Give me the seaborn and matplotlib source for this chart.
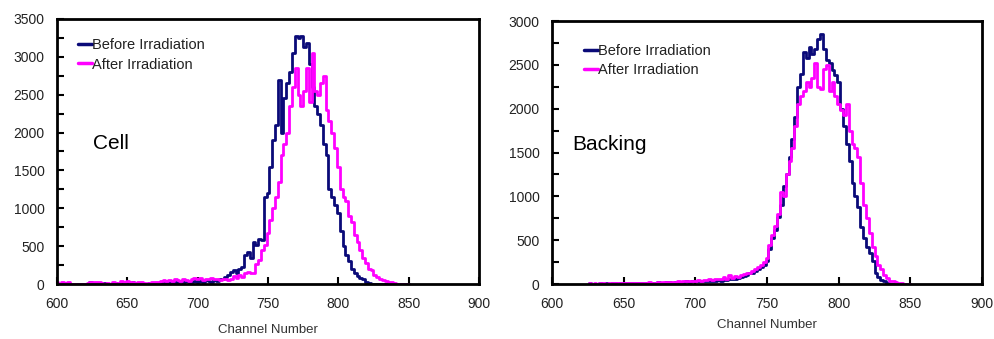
import numpy as np
import pandas as pd
import matplotlib
matplotlib.use("Agg")
import matplotlib.pyplot as plt
import seaborn as sns

# ---------------- data ----------------
cell_channels = list(range(600, 851, 2))
cell_before = [
    0, 0, 0, 0, 0, 0, 0, 0, 0, 0,
    0, 0, 20, 10, 0, 15, 0, 10, 0, 0,
    0, 10, 0, 0, 20, 30, 10, 20, 0, 10,
    0, 0, 0, 10, 0, 0, 0, 20, 10, 20,
    30, 20, 30, 20, 40, 30, 40, 20, 30, 40,
    30, 40, 30, 50, 40, 30, 50, 40, 60, 70,
    90, 120, 160, 180, 140, 200, 220, 380, 420, 350,
    560, 520, 600, 580, 1150, 1200, 1550, 1900, 2100, 2700,
    2000, 2450, 2650, 2800, 3050, 3280, 3250, 3270, 3130, 3180,
    2900, 2600, 2350, 2250, 2100, 1850, 1700, 1250, 1150, 1050,
    940, 700, 500, 380, 300, 200, 150, 110, 80, 60,
    20, 10, 0, 0, 0, 0, 0, 0, 0, 0,
    0, 0, 0, 0, 0, 0,
]
cell_after = [
    20, 0, 20, 10, 20, 0, 0, 0, 0, 0,
    0, 10, 20, 30, 20, 30, 10, 0, 10, 0,
    20, 10, 10, 40, 30, 40, 20, 30, 10, 20,
    20, 10, 0, 10, 30, 20, 30, 40, 50, 40,
    50, 40, 60, 50, 40, 60, 50, 40, 70, 80,
    60, 80, 50, 70, 60, 80, 60, 70, 50, 60,
    60, 50, 70, 100, 80, 120, 90, 140, 160, 140,
    150, 260, 320, 450, 520, 680, 850, 1000, 1150, 1350,
    1700, 1850, 2000, 2350, 2600, 2850, 2500, 2350, 2550, 2850,
    2400, 3050, 2550, 2500, 2650, 2750, 2300, 2150, 2000, 1800,
    1550, 1250, 1150, 1100, 900, 820, 650, 550, 450, 350,
    280, 200, 180, 120, 90, 70, 50, 40, 20, 30,
    10, 0, 0, 0, 0, 0,
]

back_channels = list(range(626, 851, 2))
back_before = [
    10, 5, 5, 5, 10, 5, 10, 5, 10, 10,
    5, 10, 15, 10, 10, 15, 10, 10, 15, 10,
    15, 15, 10, 15, 20, 15, 15, 20, 20, 15,
    20, 25, 20, 25, 30, 25, 35, 30, 40, 35,
    30, 35, 40, 35, 40, 45, 40, 50, 45, 60,
    55, 60, 70, 80, 90, 100, 120, 130, 150, 170,
    190, 220, 260, 400, 520, 620, 760, 900, 1120, 1260,
    1450, 1650, 1900, 2250, 2400, 2650, 2580, 2700, 2620, 2680,
    2800, 2850, 2680, 2560, 2520, 2440, 2380, 2300, 2000, 1800,
    1600, 1400, 1150, 1000, 880, 650, 520, 420, 350, 260,
    130, 80, 50, 30, 10, 0, 0, 0, 0, 0,
    0, 0, 0,
]
back_after = [
    10, 5, 10, 5, 10, 10, 5, 10, 15, 10,
    10, 15, 10, 15, 10, 10, 15, 10, 15, 10,
    15, 20, 15, 15, 20, 15, 20, 20, 25, 20,
    25, 30, 25, 30, 35, 30, 40, 35, 45, 40,
    45, 50, 55, 50, 60, 55, 60, 80, 60, 100,
    70, 90, 80, 100, 110, 120, 130, 150, 170, 190,
    220, 250, 300, 450, 560, 660, 800, 1050, 1000, 1260,
    1400, 1550, 1800, 2050, 2150, 2200, 2300, 2250, 2350, 2520,
    2250, 2220, 2450, 2500, 2200, 2300, 2150, 2050, 1980, 1930,
    2050, 1750, 1600, 1550, 1450, 1150, 900, 750, 580, 420,
    320, 220, 170, 100, 70, 40, 30, 20, 10, 10,
    0, 0, 0,
]

series_names = ["Before Irradiation", "After Irradiation"]
series_colors = ["#0a0a78", "#ff00ff"]
panel_labels = ["Cell", "Backing"]
x_ticks = [600, 650, 700, 750, 800, 850, 900]
cell_yticks = list(range(0, 3501, 500))
back_yticks = list(range(0, 3001, 500))

# ---------------- plotting ----------------
sns.set_theme(style="white")
plt.rcParams["font.family"] = ["Liberation Sans", "DejaVu Sans"]

fig = plt.figure(figsize=(9.95, 3.39), dpi=100)
ax1 = fig.add_axes([0.0573, 0.1622, 0.4241, 0.7818])
ax2 = fig.add_axes([0.5548, 0.1622, 0.4322, 0.7758])


def make_df(ch, before, after):
    return pd.concat([
        pd.DataFrame({"Channel": ch, "Counts": before, "Series": series_names[0]}),
        pd.DataFrame({"Channel": ch, "Counts": after, "Series": series_names[1]}),
    ], ignore_index=True)


panels = [
    (ax1, make_df(cell_channels, cell_before, cell_after), cell_yticks, 3500, panel_labels[0], 10, (0.025, 0.965), (0.085, 0.53)),
    (ax2, make_df(back_channels, back_before, back_after), back_yticks, 3000, panel_labels[1], 6, (0.05, 0.95), (0.048, 0.53)),
]

for ax, df, yt, ymax, label, lpad, legpos, labpos in panels:
    sns.lineplot(data=df, x="Channel", y="Counts", hue="Series",
                 hue_order=series_names, palette=series_colors,
                 drawstyle="steps-mid", linewidth=2.0, ax=ax, legend=True)
    ax.set_xlim(600, 900)
    ax.set_ylim(0, ymax)
    ax.set_xticks(x_ticks)
    ax.set_yticks(yt)
    ax.set_yticks(np.arange(0, ymax + 1, 250), minor=True)
    ax.tick_params(axis="both", which="both", direction="in", colors="black",
                   labelcolor="#222222", labelsize=10)
    ax.tick_params(axis="x", which="major", length=5, width=1.5, pad=9, bottom=True)
    ax.tick_params(axis="y", which="major", length=5, width=1.5, pad=9, left=True)
    ax.tick_params(axis="y", which="minor", length=5, width=1.5, left=True)
    for s in ax.spines.values():
        s.set_linewidth(2)
        s.set_color("black")
    ax.set_xlabel("Channel Number", fontsize=9.5, color="#333333", labelpad=lpad)
    ax.set_ylabel("")
    ax.text(labpos[0], labpos[1], label, transform=ax.transAxes, fontsize=15,
            color="black", va="center", ha="left")
    leg = ax.legend(loc="upper left", bbox_to_anchor=legpos, frameon=False,
                    handlelength=1.0, handletextpad=0.0, fontsize=10.5,
                    labelspacing=0.35, borderaxespad=0.3)
    for line in leg.get_lines():
        line.set_linewidth(2.5)
    for t in leg.get_texts():
        t.set_color("#222222")
    ax.grid(False)

fig.savefig("out.png", dpi=100)
